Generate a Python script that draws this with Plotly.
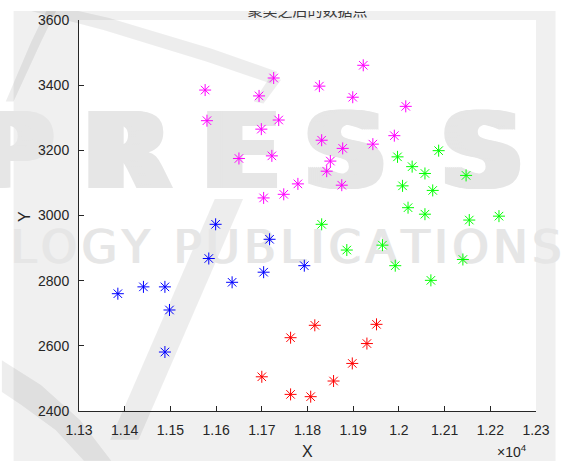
import plotly.graph_objects as go

# Clustered points, one list pair per cluster
blue_x = [11385, 11441, 11488, 11498, 11488, 11584, 11599, 11635, 11704, 11717, 11793]
blue_y = [2760, 2781, 2781, 2710, 2581, 2868, 2973, 2795, 2826, 2927, 2846]

red_x = [11700, 11763, 11816, 11951, 11930, 11898, 11857, 11763, 11807]
red_y = [2505, 2625, 2663, 2666, 2607, 2546, 2492, 2451, 2444]

magenta_x = [11576, 11694, 11726, 11580, 11699, 11737, 11650, 11722, 11779, 11748, 11704,
             11922, 11826, 11899, 12015, 11831, 11990, 11943, 11877, 11850, 11842, 11875]
magenta_y = [3385, 3367, 3422, 3291, 3265, 3293, 3175, 3183, 3097, 3065, 3054,
             3461, 3397, 3363, 3335, 3231, 3245, 3219, 3206, 3167, 3136, 3093]

green_x = [11997, 12087, 12029, 12057, 12147, 12008, 12074, 12020, 12057, 12154, 12219,
           11831, 11886, 11964, 11992, 12140, 12070]
green_y = [3180, 3199, 3150, 3129, 3123, 3091, 3077, 3024, 3004, 2986, 2998,
           2973, 2894, 2909, 2846, 2865, 2801]

x_ticks = [11300, 11400, 11500, 11600, 11700, 11800, 11900, 12000, 12100, 12200, 12300]
x_tick_text = ["1.13", "1.14", "1.15", "1.16", "1.17", "1.18", "1.19", "1.2", "1.21", "1.22", "1.23"]
y_ticks = [2400, 2600, 2800, 3000, 3200, 3400, 3600]

title_text = "聚类之后的数据点"

AX = "#262626"
FONT = "Liberation Sans"
W, H = 562, 461
L, R, T, B = 79, 15, 18, 50
PW, PH = W - L - R, H - T - B
x_range = [x_ticks[0], x_ticks[-1]]
y_range = [y_ticks[0], y_ticks[-1]]


def px_to_paper(px, py):
    return (px - L) / PW, (H - B - py) / PH


def px_to_data(px, py):
    return (x_range[0] + (px - L) / PW * (x_range[1] - x_range[0]),
            y_range[1] - (py - T) / PH * (y_range[1] - y_range[0]))


def poly_path(points):
    pts = [px_to_paper(px, py) for px, py in points]
    return "M" + " L".join(f"{x:.4f},{y:.4f}" for x, y in pts) + " Z"


fig = go.Figure()

# Publisher watermark behind the data (thickened by small horizontal offsets)
WM = "#e6e6e6"
wm_font = dict(family="DejaVu Sans", size=105, color=WM, weight="bold")
wm_x, wm_y, wm_t = [], [], []
for ch, cx in zip(["R", "E", "S", "S"], [128, 245, 352, 492]):
    for dx in range(-8, 9, 2):
        x, y = px_to_data(cx + dx, 160)
        wm_x.append(x)
        wm_y.append(y)
        wm_t.append(ch)
fig.add_trace(go.Scatter(
    x=wm_x, y=wm_y, text=wm_t, mode="text", cliponaxis=False, showlegend=False,
    hoverinfo="skip", textfont=wm_font,
))
# first letter sits left of the axes, so it hangs off an anchor on the y axis
p_x, p_y = [], []
for dx in range(0, 17, 2):
    x, y = px_to_data(L + dx, 160)
    p_x.append(x)
    p_y.append(y)
fig.add_trace(go.Scatter(
    x=p_x, y=p_y, text=["P "] * len(p_x), mode="text", textposition="middle left",
    cliponaxis=False, showlegend=False, hoverinfo="skip", textfont=wm_font,
))
sub_x, sub_y, sub_t = [], [], []
for dx in (0, 2):
    x, y = px_to_data(290 + dx, 251)
    sub_x.append(x)
    sub_y.append(y)
    sub_t.append("\u200a".join("LOGY PUBLICATIONS"))
fig.add_trace(go.Scatter(
    x=sub_x, y=sub_y, text=sub_t, mode="text", cliponaxis=False, showlegend=False,
    hoverinfo="skip", textfont=dict(family="DejaVu Sans", size=46, color=WM),
))

clusters = [
    (blue_x, blue_y, "#0000ff"),
    (red_x, red_y, "#ff0000"),
    (magenta_x, magenta_y, "#ff00ff"),
    (green_x, green_y, "#00ff00"),
]
for xs, ys, color in clusters:
    fig.add_trace(go.Scatter(
        x=xs, y=ys, mode="markers", showlegend=False, hoverinfo="skip",
        marker=dict(symbol="asterisk-open", size=10, color=color,
                    line=dict(color=color, width=1)),
    ))

# Title, drawn as text above the top edge so the top strip of the page can crop it
fig.add_trace(go.Scatter(
    x=[(x_range[0] + x_range[1]) / 2], y=[y_range[1] - 0.01], mode="text",
    textposition="top center",
    text=[title_text], cliponaxis=False, showlegend=False, hoverinfo="skip",
    textfont=dict(family="Noto Sans CJK SC", size=15, color="#3a3a3a"),
))

gx0, gy0 = px_to_paper(12, 9)
gx1, gy1 = px_to_paper(W + 5, H + 5)
shapes = [
    # grey figure background
    dict(type="rect", xref="paper", yref="paper", x0=gx0, x1=gx1, y0=gy1, y1=gy0,
         fillcolor="#f0f0f0", line=dict(width=0), layer="below"),
    # white axes area
    dict(type="rect", xref="paper", yref="paper", x0=0, x1=1, y0=0, y1=1,
         fillcolor="#ffffff", line=dict(width=0), layer="below"),
]
# watermark swooshes
swooshes = [
    [(218, 198), (247, 198), (140, 440), (111, 440)],
    [(0, 360), (40, 385), (80, 420), (112, 461), (84, 461), (55, 430), (20, 405), (0, 392)],
    [(38, 0), (110, 16), (215, 47), (282, 70), (276, 82), (210, 60), (104, 28), (26, 8)],
    [(50, 0), (60, 0), (40, 40), (12, 100), (4, 100), (30, 40)],
    [(274, 76), (286, 78), (268, 102), (258, 100)],
]
for pts in swooshes:
    shapes.append(dict(type="path", xref="paper", yref="paper", path=poly_path(pts),
                       fillcolor="rgba(0,0,0,0.07)", line=dict(width=0), layer="below"))
# white strip along the top edge, over the title
sx0, sy0 = px_to_paper(-50, 9)
sx1, sy1 = px_to_paper(W + 50, -30)
shapes.append(dict(type="rect", xref="paper", yref="paper", x0=sx0, x1=sx1, y0=sy0, y1=sy1,
                   fillcolor="#ffffff", line=dict(width=0), layer="above"))

annotations = [
    dict(text="X", xref="paper", yref="paper", x=0.5, y=px_to_paper(0, 452)[1],
         showarrow=False, xanchor="center", yanchor="middle",
         font=dict(family=FONT, size=16, color=AX)),
    dict(text="Y", xref="paper", yref="paper", x=px_to_paper(23, 0)[0], y=0.497,
         showarrow=False, textangle=-90, xanchor="center", yanchor="middle",
         font=dict(family=FONT, size=16, color=AX)),
    dict(text="×10<sup>4</sup>", xref="paper", yref="paper", x=px_to_paper(540, 0)[0],
         y=px_to_paper(0, 451)[1], showarrow=False, xanchor="right", yanchor="middle",
         font=dict(family=FONT, size=14, color=AX)),
]

fig.update_layout(
    width=W, height=H,
    margin=dict(l=L, r=R, t=T, b=B),
    paper_bgcolor="#ffffff", plot_bgcolor="rgba(0,0,0,0)",
    shapes=shapes, annotations=annotations,
    xaxis=dict(range=x_range, tickvals=x_ticks, ticktext=x_tick_text,
               ticks="inside", ticklen=5, tickwidth=1, tickcolor=AX,
               showline=True, linecolor=AX, linewidth=1, showgrid=False, zeroline=False,
               tickfont=dict(family=FONT, size=14, color=AX), ticklabelstandoff=6),
    yaxis=dict(range=y_range, tickvals=y_ticks,
               ticks="inside", ticklen=5, tickwidth=1, tickcolor=AX,
               showline=True, linecolor=AX, linewidth=1, showgrid=False, zeroline=False,
               tickfont=dict(family=FONT, size=14, color=AX), ticklabelstandoff=6),
)

fig.write_html("out.html")
